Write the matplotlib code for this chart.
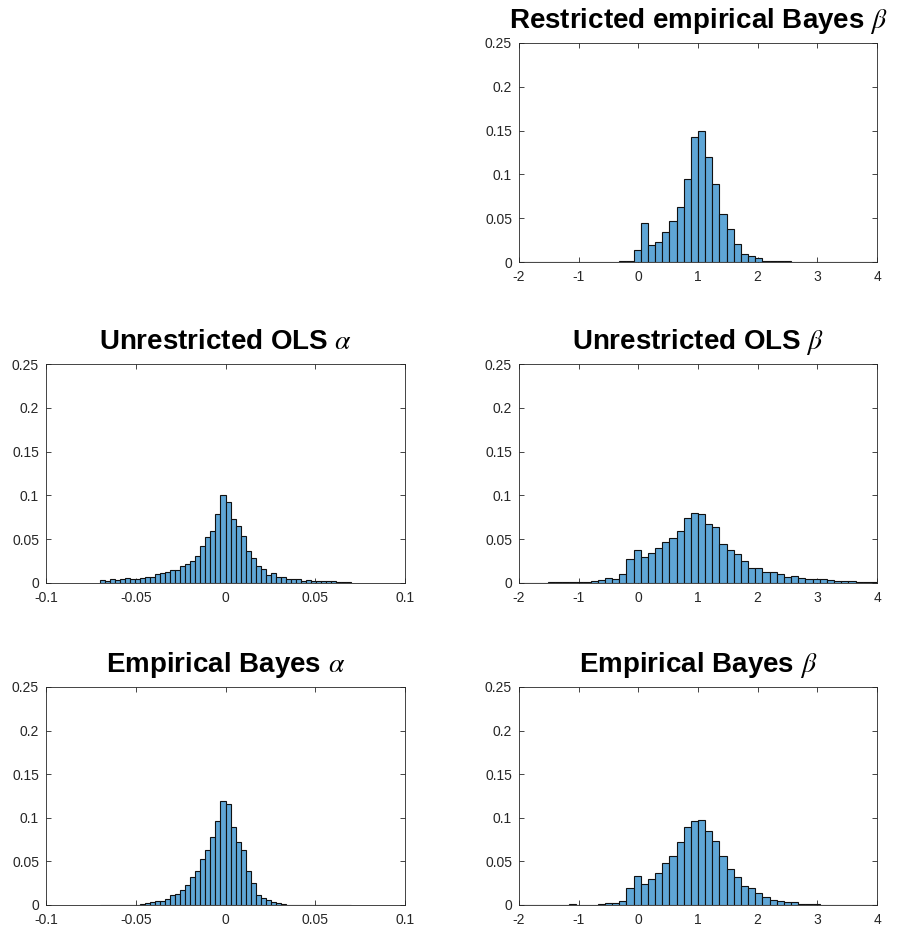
import numpy as np
import matplotlib
matplotlib.use("Agg")
import matplotlib.pyplot as plt

plt.rcParams['font.family'] = ['Liberation Sans', 'DejaVu Sans']
plt.rcParams['mathtext.fontset'] = 'stix'

# bin settings (50 equal bins per histogram)
beta_range = (-2.0, 4.0)
alpha_range = (-0.07, 0.07)
n_bins = 50

# bin probabilities
restricted_eb_beta = [
    0.0005, 0.0005, 0.0005, 0.0004, 0.0004, 0.0005, 0.0004, 0.0005, 0.0005, 0.0005,
    0.0004, 0.0004, 0.0005, 0.0005, 0.0006, 0.001, 0.014, 0.045, 0.019, 0.023,
    0.034, 0.047, 0.063, 0.095, 0.143, 0.149, 0.120, 0.089, 0.055, 0.038,
    0.021, 0.0095, 0.007, 0.004, 0.0015, 0.001, 0.0008, 0.0006, 0.0005, 0.0005,
    0.0005, 0.0004, 0.0005, 0.0004, 0.0004, 0.0004, 0.0004, 0.0003, 0.0003, 0.0003,
]
ols_beta = [
    0.0005, 0.0005, 0.0005, 0.0002, 0.001, 0.001, 0.0015, 0.0017, 0.0017, 0.0017,
    0.002, 0.003, 0.006, 0.005, 0.010, 0.027, 0.038, 0.030, 0.034, 0.040,
    0.047, 0.051, 0.059, 0.074, 0.080, 0.079, 0.067, 0.064, 0.045, 0.038,
    0.033, 0.025, 0.017, 0.017, 0.013, 0.012, 0.010, 0.007, 0.008, 0.006,
    0.005, 0.005, 0.004, 0.003, 0.002, 0.002, 0.002, 0.001, 0.001, 0.001,
]
eb_beta = [
    0.0005, 0.0003, 0.0003, 0.0003, 0.0003, 0.0003, 0.0003, 0.0015, 0.0005, 0.0005,
    0.0005, 0.001, 0.002, 0.002, 0.005, 0.019, 0.033, 0.024, 0.030, 0.037,
    0.048, 0.056, 0.072, 0.089, 0.096, 0.097, 0.085, 0.073, 0.056, 0.041,
    0.032, 0.022, 0.020, 0.014, 0.009, 0.006, 0.005, 0.003, 0.003, 0.0015,
    0.0015, 0.001, 0.0005, 0.0005, 0.0005, 0.0005, 0.0003, 0.0003, 0.0003, 0.0003,
]
ols_alpha = [
    0.0034, 0.002, 0.0046, 0.003, 0.005, 0.0057, 0.005, 0.005, 0.0057, 0.0065,
    0.007, 0.010, 0.0114, 0.0125, 0.015, 0.015, 0.019, 0.0217, 0.025, 0.031,
    0.042, 0.053, 0.059, 0.079, 0.100, 0.093, 0.073, 0.065, 0.054, 0.037,
    0.028, 0.019, 0.0156, 0.009, 0.011, 0.007, 0.0065, 0.0046, 0.0046, 0.004,
    0.002, 0.003, 0.002, 0.0027, 0.0027, 0.002, 0.002, 0.001, 0.001, 0.001,
]
eb_alpha = [
    0.0004, 0.0004, 0.0004, 0.0004, 0.0004, 0.0005, 0.0005, 0.0005, 0.0008, 0.002,
    0.0038, 0.0046, 0.0046, 0.007, 0.011, 0.013, 0.0176, 0.023, 0.032, 0.039,
    0.053, 0.063, 0.078, 0.096, 0.119, 0.116, 0.089, 0.0725, 0.063, 0.039,
    0.025, 0.0115, 0.0084, 0.0053, 0.003, 0.002, 0.0008, 0.0005, 0.0005, 0.0005,
    0.0005, 0.0005, 0.0004, 0.0004, 0.0004, 0.0004, 0.0004, 0.0004, 0.0004, 0.0004,
]

titles = {
    'rb': r'Restricted empirical Bayes $\beta$',
    'oa': r'Unrestricted OLS $\alpha$',
    'ob': r'Unrestricted OLS $\beta$',
    'ea': r'Empirical Bayes $\alpha$',
    'eb': r'Empirical Bayes $\beta$',
}

W, H = 907, 934
fig = plt.figure(figsize=(W / 100, H / 100), dpi=100)

face = '#5FA6D6'
grey = '#262626'


def px_axes(left, top, right, bottom):
    return fig.add_axes([left / W, 1 - bottom / H, (right - left) / W, (bottom - top) / H])


def draw(ax, heights, rng, xticks, xlabels, title):
    edges = np.linspace(rng[0], rng[1], n_bins + 1)
    ax.bar(edges[:-1], heights, width=np.diff(edges), align='edge',
           color=face, edgecolor='#111111', linewidth=0.8, zorder=3)
    ax.set_ylim(0, 0.25)
    ax.set_yticks([0, 0.05, 0.1, 0.15, 0.2, 0.25])
    ax.set_yticklabels(['0', '0.05', '0.1', '0.15', '0.2', '0.25'])
    ax.set_xticks(xticks)
    ax.set_xticklabels(xlabels)
    ax.tick_params(direction='in', top=True, right=True, labelsize=10,
                   colors=grey, length=3.5, width=0.6)
    ax.tick_params(axis='y', pad=5)
    ax.tick_params(axis='x', pad=6)
    for s in ax.spines.values():
        s.set_color(grey)
        s.set_linewidth(0.6)
    ax.set_title(title, fontsize=20, fontweight='bold', pad=11)


bx = [-2, -1, 0, 1, 2, 3, 4]
bl = ['-2', '-1', '0', '1', '2', '3', '4']
ax_ticks = [-0.1, -0.05, 0, 0.05, 0.1]
al = ['-0.1', '-0.05', '0', '0.05', '0.1']

ax1 = px_axes(519, 43, 877, 262)
ax1.set_xlim(-2, 4)
draw(ax1, restricted_eb_beta, beta_range, bx, bl, titles['rb'])

ax2 = px_axes(46, 364, 405, 583)
ax2.set_xlim(-0.1, 0.1)
draw(ax2, ols_alpha, alpha_range, ax_ticks, al, titles['oa'])

ax3 = px_axes(519, 364, 877, 583)
ax3.set_xlim(-2, 4)
draw(ax3, ols_beta, beta_range, bx, bl, titles['ob'])

ax4 = px_axes(46, 687, 405, 905)
ax4.set_xlim(-0.1, 0.1)
draw(ax4, eb_alpha, alpha_range, ax_ticks, al, titles['ea'])

ax5 = px_axes(519, 687, 877, 905)
ax5.set_xlim(-2, 4)
draw(ax5, eb_beta, beta_range, bx, bl, titles['eb'])

fig.savefig('out.png', dpi=100)
